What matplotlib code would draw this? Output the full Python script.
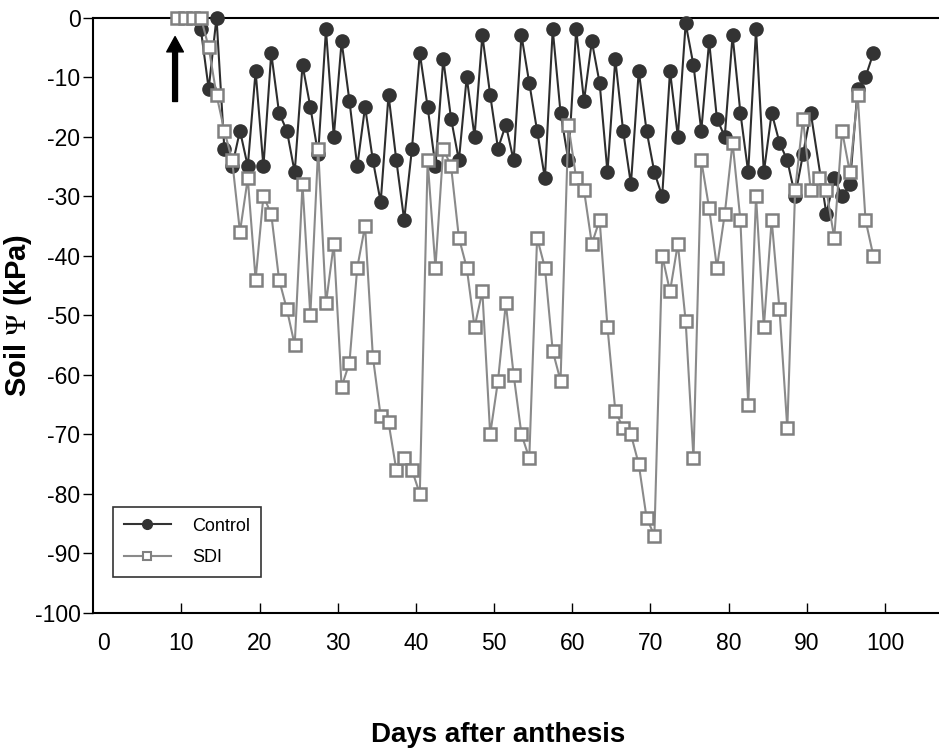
import matplotlib
matplotlib.use("Agg")
import matplotlib.pyplot as plt
from matplotlib.lines import Line2D

plt.rcParams['font.family'] = ['Liberation Sans', 'DejaVu Sans']
plt.rcParams['mathtext.fontset'] = 'stix'

# Control treatment: day after anthesis and soil water potential (kPa)
control_days = [12.5, 13.5, 14.5, 15.5, 16.5, 17.5, 18.5, 19.5, 20.5, 21.5,
                22.5, 23.5, 24.5, 25.5, 26.5, 27.5, 28.5, 29.5, 30.5, 31.5,
                32.5, 33.5, 34.5, 35.5, 36.5, 37.5, 38.5, 39.5, 40.5, 41.5,
                42.5, 43.5, 44.5, 45.5, 46.5, 47.5, 48.5, 49.5, 50.5, 51.5,
                52.5, 53.5, 54.5, 55.5, 56.5, 57.5, 58.5, 59.5, 60.5, 61.5,
                62.5, 63.5, 64.5, 65.5, 66.5, 67.5, 68.5, 69.5, 70.5, 71.5,
                72.5, 73.5, 74.5, 75.5, 76.5, 77.5, 78.5, 79.5, 80.5, 81.5,
                82.5, 83.5, 84.5, 85.5, 86.5, 87.5, 88.5, 89.5, 90.5,
                92.5, 93.5, 94.5, 95.5, 96.5, 97.5, 98.5]
control_kpa = [-2, -12, 0, -22, -25, -19, -25, -9, -25, -6,
               -16, -19, -26, -8, -15, -23, -2, -20, -4, -14,
               -25, -15, -24, -31, -13, -24, -34, -22, -6, -15,
               -25, -7, -17, -24, -10, -20, -3, -13, -22, -18,
               -24, -3, -11, -19, -27, -2, -16, -24, -2, -14,
               -4, -11, -26, -7, -19, -28, -9, -19, -26, -30,
               -9, -20, -1, -8, -19, -4, -17, -20, -3, -16,
               -26, -2, -26, -16, -21, -24, -30, -23, -16,
               -33, -27, -30, -28, -12, -10, -6]

# SDI treatment
sdi_days = [9.5, 10.5, 11.5, 12.5, 13.5, 14.5, 15.5, 16.5, 17.5, 18.5,
            19.5, 20.5, 21.5, 22.5, 23.5, 24.5, 25.5, 26.5, 27.5, 28.5,
            29.5, 30.5, 31.5, 32.5, 33.5, 34.5, 35.5, 36.5, 37.5, 38.5,
            39.5, 40.5, 41.5, 42.5, 43.5, 44.5, 45.5, 46.5, 47.5, 48.5,
            49.5, 50.5, 51.5, 52.5, 53.5, 54.5, 55.5, 56.5, 57.5, 58.5,
            59.5, 60.5, 61.5, 62.5, 63.5, 64.5, 65.5, 66.5, 67.5, 68.5,
            69.5, 70.5, 71.5, 72.5, 73.5, 74.5, 75.5, 76.5, 77.5, 78.5,
            79.5, 80.5, 81.5, 82.5, 83.5, 84.5, 85.5, 86.5, 87.5, 88.5,
            89.5, 90.5, 91.5, 92.5, 93.5, 94.5, 95.5, 96.5, 97.5, 98.5]
sdi_kpa = [0, 0, 0, 0, -5, -13, -19, -24, -36, -27,
           -44, -30, -33, -44, -49, -55, -28, -50, -22, -48,
           -38, -62, -58, -42, -35, -57, -67, -68, -76, -74,
           -76, -80, -24, -42, -22, -25, -37, -42, -52, -46,
           -70, -61, -48, -60, -70, -74, -37, -42, -56, -61,
           -18, -27, -29, -38, -34, -52, -66, -69, -70, -75,
           -84, -87, -40, -46, -38, -51, -74, -24, -32, -42,
           -33, -21, -34, -65, -30, -52, -34, -49, -69, -29,
           -17, -29, -27, -29, -37, -19, -26, -13, -34, -40]

x_ticks = [0, 10, 20, 30, 40, 50, 60, 70, 80, 90, 100]
y_ticks = [0, -10, -20, -30, -40, -50, -60, -70, -80, -90, -100]

fig = plt.figure(figsize=(9.39, 7.49), dpi=100)
ax = fig.add_axes([0.099, 0.1816, 0.901, 0.795])

ax.plot(control_days, control_kpa, color='#2e2e2e', lw=1.5, marker='o', ms=9.5,
        mfc='#333333', mec='#333333', clip_on=False, zorder=3)
ax.plot(sdi_days, sdi_kpa, color='#8a8a8a', lw=1.5, marker='s', ms=8.5,
        mfc='white', mec='#808080', mew=1.8, clip_on=False, zorder=4)

# arrow marking the start of the treatment
ax.annotate('', xy=(9.2, -3.2), xytext=(9.2, -14.1),
            arrowprops=dict(facecolor='black', edgecolor='black', width=3.5,
                            headwidth=12, headlength=11, shrink=0))

ax.set_xlim(-1.3, 106.9)
ax.set_ylim(-100, 0)
ax.set_xticks(x_ticks)
ax.set_yticks(y_ticks)
ax.set_xticklabels([str(t) for t in x_ticks], fontsize=16.5)
ax.set_yticklabels([str(t) for t in y_ticks], fontsize=16.5)
ax.tick_params(axis='x', direction='in', length=7, width=1, pad=14)
ax.tick_params(axis='y', direction='out', length=7, width=1, pad=2)
ax.xaxis.get_major_ticks()[0].tick1line.set_visible(False)

ax.spines['right'].set_visible(False)
for s in ['left', 'top', 'bottom']:
    ax.spines[s].set_linewidth(1.5)

ax.set_xlabel('Days after anthesis', fontsize=20, fontweight='bold')
ax.xaxis.set_label_coords(0.479, -0.183)
ax.set_ylabel(r'Soil $\Psi$ (kPa)', fontsize=21, fontweight='bold')
ax.yaxis.set_label_coords(-0.07, 0.5)

handles = [
    Line2D([], [], color='#333333', lw=1.5, marker='o', ms=7, mfc='#333333', mec='#333333'),
    Line2D([], [], color='#8a8a8a', lw=1.5, marker='s', ms=6, mfc='white', mec='#808080', mew=1.5),
]
leg = ax.legend(handles, ['Control', 'SDI'], loc='lower left',
                bbox_to_anchor=(0.0236, 0.0605), borderaxespad=0, fontsize=13,
                frameon=True, fancybox=False, handlelength=2.6, handletextpad=1.2,
                labelspacing=0.8, borderpad=0.6)
leg.get_frame().set_edgecolor('black')
leg.get_frame().set_linewidth(1.2)

fig.savefig('out.png', dpi=100)
